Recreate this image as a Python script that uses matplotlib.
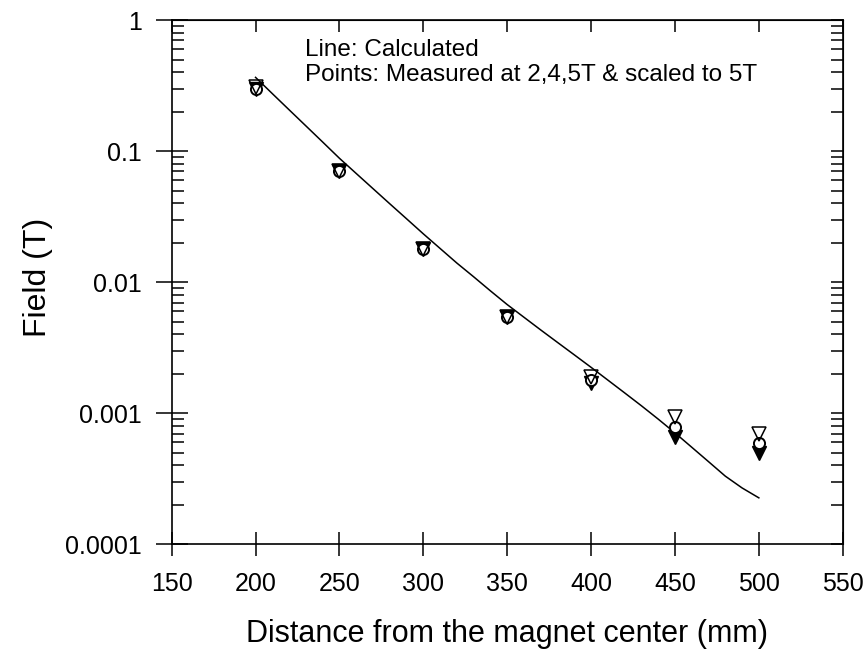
import matplotlib
matplotlib.use("Agg")
import matplotlib.pyplot as plt
from matplotlib.ticker import LogLocator, FixedLocator, NullFormatter, NullLocator

plt.rcParams['font.family'] = ['Liberation Sans', 'DejaVu Sans']

# Calculated line
calc_x = [200, 210, 220, 230, 240, 250, 260, 270, 280, 290, 300, 310, 320, 330,
          340, 350, 360, 370, 380, 390, 400, 410, 420, 430, 440, 450, 460, 470,
          480, 490, 500]
calc_y = [0.366, 0.275, 0.207, 0.156, 0.1175, 0.0883, 0.0676, 0.0518, 0.0397,
          0.0305, 0.0234, 0.0181, 0.0140, 0.0110, 0.00859, 0.00675, 0.00540,
          0.00432, 0.00347, 0.00279, 0.00224, 0.00179, 0.00143, 0.00114,
          0.000902, 0.000708, 0.000550, 0.000427, 0.000331, 0.000269, 0.000226]

# Measured points
meas_x = [200, 250, 300, 350, 400, 450, 500]
meas_open_tri = [0.31, 0.070, 0.018, 0.0054, 0.0019, 0.00093, 0.00070]
meas_circle = [0.30, 0.071, 0.018, 0.0054, 0.0018, 0.00078, 0.00059]
meas_filled_tri = [0.30, 0.070, 0.018, 0.0054, 0.0017, 0.00066, 0.000495]

xticks = [150, 200, 250, 300, 350, 400, 450, 500, 550]
yticks = [0.0001, 0.001, 0.01, 0.1, 1]
ytick_labels = ["0.0001", "0.001", "0.01", "0.1", "1"]

fig = plt.figure(figsize=(8.67, 6.51), dpi=100)
ax = fig.add_axes([0.198, 0.164, 0.774, 0.805])

ax.plot(calc_x, calc_y, color='black', lw=1.1, zorder=2)
ax.plot(meas_x, meas_filled_tri, linestyle='none', marker='v', markersize=9.5,
        mfc='black', mec='black', zorder=3)
ax.plot(meas_x, meas_circle, linestyle='none', marker='o', markersize=8,
        mfc='white', mec='black', mew=1.4, zorder=4)
ax.plot(meas_x, meas_open_tri, linestyle='none', marker='v', markersize=9.5,
        mfc='none', mec='black', mew=1.1, zorder=5)

ax.set_yscale('log')
ax.set_xlim(150, 550)
ax.set_ylim(0.0001, 1)

ax.xaxis.set_major_locator(FixedLocator(xticks))
ax.set_xticklabels([str(v) for v in xticks])
ax.xaxis.set_minor_locator(NullLocator())
ax.yaxis.set_major_locator(FixedLocator(yticks))
ax.set_yticklabels(ytick_labels)
ax.yaxis.set_minor_locator(LogLocator(base=10, subs=range(2, 10)))
ax.yaxis.set_minor_formatter(NullFormatter())

ax.tick_params(axis='x', which='major', direction='inout', length=17, width=1.1,
               labelsize=18, pad=11.5)
ax.tick_params(axis='y', which='major', direction='inout', length=23, width=1.1,
               labelsize=18, pad=10)
ax.tick_params(axis='y', which='minor', direction='in', length=8.5, width=1.1)

for s in ax.spines.values():
    s.set_linewidth(1.2)

# top and right ticks (inward)
secx = ax.secondary_xaxis('top')
secx.xaxis.set_major_locator(FixedLocator(xticks))
secx.tick_params(direction='in', length=8.5, width=1.1, labeltop=False)
secx.set_xticklabels([])
secy = ax.secondary_yaxis('right', functions=(lambda v: v, lambda v: v))
secy.set_yscale('log')
secy.yaxis.set_major_locator(FixedLocator(yticks))
secy.yaxis.set_minor_locator(LogLocator(base=10, subs=range(2, 10)))
secy.yaxis.set_minor_formatter(NullFormatter())
secy.tick_params(which='major', direction='in', length=8.5, width=1.1, labelright=False)
secy.tick_params(which='minor', direction='in', length=8.5, width=1.1)
secy.set_yticklabels([])

ax.set_xlabel('Distance from the magnet center (mm)', fontsize=22)
ax.xaxis.set_label_coords(0.5, -0.143)
ax.set_ylabel('Field (T)', fontsize=23)
ax.yaxis.set_label_coords(-0.177, 0.51)

ax.text(0.198, 0.943, 'Line: Calculated', transform=ax.transAxes,
        fontsize=17.5, va='center', ha='left')
ax.text(0.198, 0.896, 'Points: Measured at 2,4,5T & scaled to 5T', transform=ax.transAxes,
        fontsize=17.5, va='center', ha='left')

fig.savefig('out.png', dpi=100)
